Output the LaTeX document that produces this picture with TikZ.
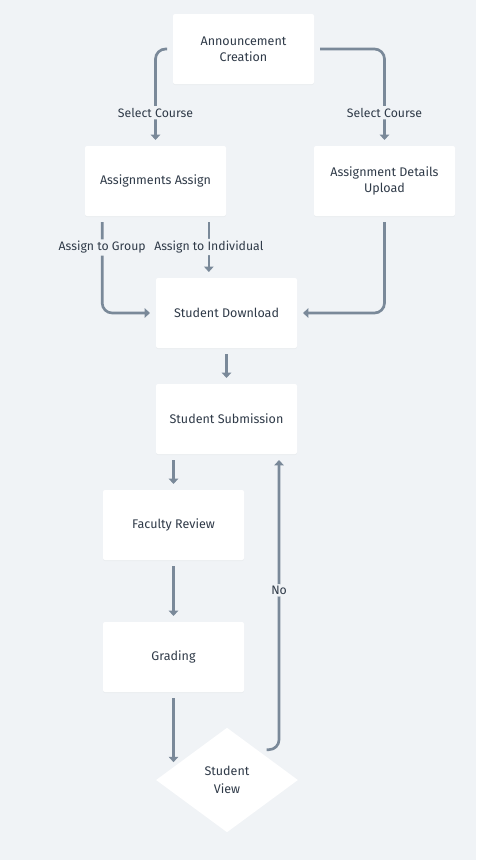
\documentclass[tikz,border=0pt]{standalone}
\usepackage{fontspec}
\setmainfont{Fira Sans}
\usetikzlibrary{
  arrows.meta,
  positioning,
  shapes.geometric,
  shadows
}
\definecolor{canvas}{RGB}{240,243,246}
\definecolor{link}{RGB}{122,137,153}
\definecolor{ink}{RGB}{47,58,72}

\begin{document}
\begin{tikzpicture}[
  x=0.75pt, y=-0.75pt,
  box/.style={fill=white, rounded corners=1.5pt, minimum width=105.75pt, minimum height=52.5pt,
              align=center, font=\fontsize{9.4pt}{12pt}\selectfont, text=ink, outer sep=4.5pt,
              drop shadow={shadow xshift=0pt, shadow yshift=-0.75pt, opacity=0.05}},
  decision/.style={diamond, fill=white, minimum width=110pt, minimum height=82pt, inner sep=0pt,
                   align=center, font=\fontsize{9.4pt}{13.5pt}\selectfont, text=ink, outer sep=4.5pt},
  arrow/.style={-{Triangle[length=4pt, width=7pt]}, line width=2pt, draw=link, rounded corners=7.5pt},
  label/.style={fill=canvas, font=\fontsize{9.2pt}{12pt}\selectfont, text=ink, inner sep=1.5pt}
]
  % Canvas
  \fill[canvas] (0,0) rectangle (476,860);
  \useasboundingbox (0,0) rectangle (476,860);

  % Nodes top to bottom
  \node[box] (announce) at (243.5,49) {Announcement\\Creation};
  \node[box] (assign) at (155.5,181) {Assignments Assign};
  \node[box] (upload) at (384.5,181) {Assignment Details\\Upload};
  \node[box] (download) at (226.5,313) {Student Download};
  \node[box] (submit) at (226.5,419) {Student Submission};
  \node[box] (review) at (173.5,525) {Faculty Review};
  \node[box] (grading) at (173.5,657) {Grading};
  \node[decision] (view) at (227,780) {Student\\View};

  % Course selection
  \draw[arrow] (announce.west) -| node[label, pos=0.85] {Select Course} (assign.north);
  \draw[arrow] (announce.east) -| node[label, pos=0.85] {Select Course} (upload.north);

  % Assignment paths
  \draw[arrow] ([xshift=-40pt]assign.south) |- node[label, pos=0.14] {Assign to Group} (download.west);
  \draw[arrow] ([xshift=40pt]assign.south) -- node[label] {Assign to Individual}
    ([xshift=40pt]assign.south |- download.north);
  \draw[arrow] (upload.south) |- (download.east);

  % Main flow
  \foreach \a/\b in {download/submit, review/grading} {
    \draw[arrow] (\a) -- (\b);
  }
  \draw[arrow] (submit.south -| review.north) -- (review.north);
  \draw[arrow] (grading.south) -- ([yshift=-9.4pt]grading.south |- view.north west);

  % Loop back
  \draw[arrow] (view.north east) -| node[label, pos=0.775] {No} ([xshift=39.4pt]submit.south);
\end{tikzpicture}
\end{document}
